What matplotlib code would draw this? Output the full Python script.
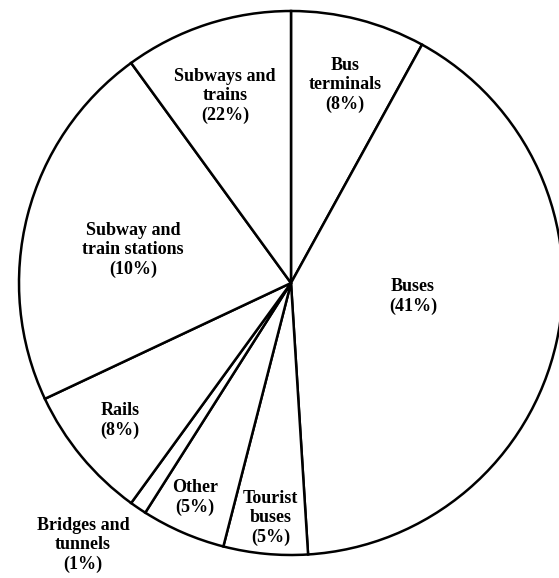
import matplotlib
matplotlib.use("Agg")
import matplotlib.pyplot as plt

# wedge sizes as drawn, clockwise from 12 o'clock
sizes = [8, 41, 5, 5, 1, 8, 22, 10]
labels = [
    "Bus\nterminals\n(8%)",
    "Buses\n(41%)",
    "Tourist\nbuses\n(5%)",
    "Other\n(5%)",
    "Bridges and\ntunnels\n(1%)",
    "Rails\n(8%)",
    "Subway and\ntrain stations\n(10%)",
    "Subways and\ntrains\n(22%)",
]

# label spots in pie units (radius = 1)
label_xy = [
    (0.199, 0.728),
    (0.449, -0.048),
    (-0.075, -0.864),
    (-0.353, -0.787),
    (-0.765, -0.963),
    (-0.629, -0.507),
    (-0.581, 0.121),
    (-0.243, 0.688),
]

plt.rcParams['font.family'] = ['Liberation Serif', 'DejaVu Serif']

fig = plt.figure(figsize=(5.59, 5.78), dpi=100)
ax = fig.add_axes([0, 0, 1, 1])

ax.pie(sizes, startangle=90, counterclock=False, radius=1,
       colors=['white'] * len(sizes),
       wedgeprops=dict(edgecolor='black', linewidth=1.8))

for txt, (x, y) in zip(labels, label_xy):
    ax.text(x, y, txt, ha='center', va='center', fontsize=13,
            fontweight='bold', linespacing=1.2)

ax.set_xlim(-291 / 272, 268 / 272)
ax.set_ylim(-295 / 272, 283 / 272)
ax.set_aspect('equal')
ax.axis('off')

fig.savefig("out.png", dpi=100, facecolor='white')
